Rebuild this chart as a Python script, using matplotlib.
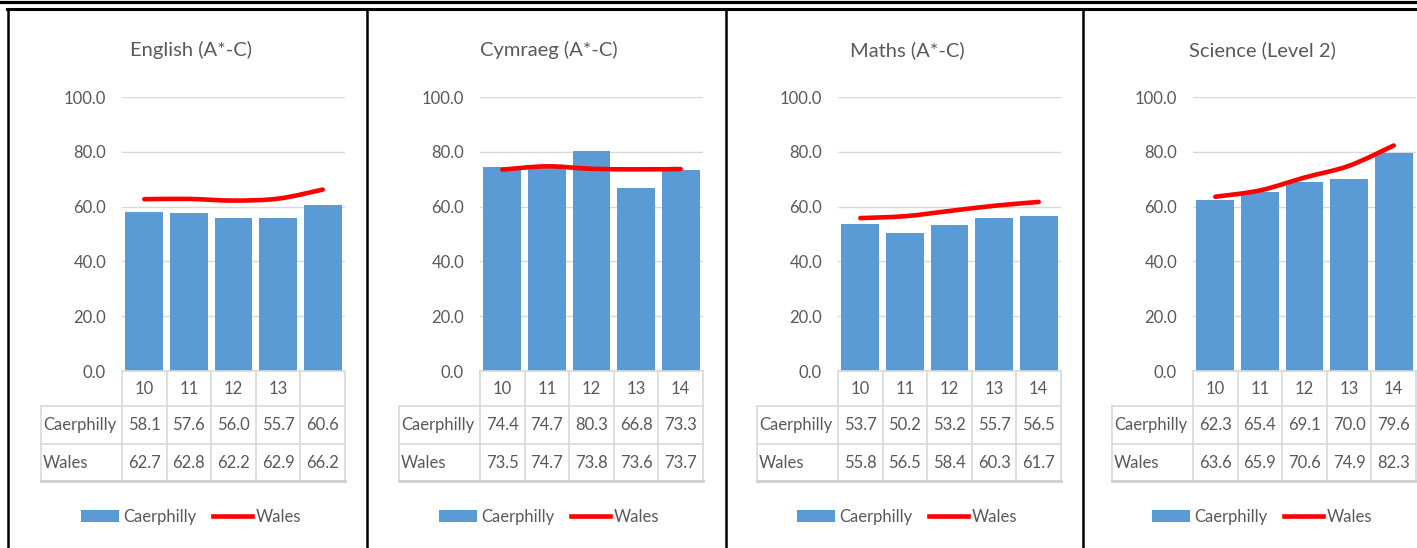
import numpy as np
import matplotlib.pyplot as plt
from matplotlib.lines import Line2D
from matplotlib.patches import Patch, PathPatch
from matplotlib.path import Path

plt.rcParams['font.family'] = ['Lato', 'DejaVu Sans']

# data
years = ['10', '11', '12', '13', '14']
english_years = ['10', '11', '12', '13', '']

english_caerphilly = [58.1, 57.6, 56.0, 55.7, 60.6]
english_wales = [62.7, 62.8, 62.2, 62.9, 66.2]
cymraeg_caerphilly = [74.4, 74.7, 80.3, 66.8, 73.3]
cymraeg_wales = [73.5, 74.7, 73.8, 73.6, 73.7]
maths_caerphilly = [53.7, 50.2, 53.2, 55.7, 56.5]
maths_wales = [55.8, 56.5, 58.4, 60.3, 61.7]
science_caerphilly = [62.3, 65.4, 69.1, 70.0, 79.6]
science_wales = [63.6, 65.9, 70.6, 74.9, 82.3]

panels = [
    ('English (A*-C)', english_years, english_caerphilly, english_wales),
    ('Cymraeg (A*-C)', years, cymraeg_caerphilly, cymraeg_wales),
    ('Maths (A*-C)', years, maths_caerphilly, maths_wales),
    ('Science (Level 2)', years, science_caerphilly, science_wales),
]

BLUE = '#5b9bd5'
RED = '#ff0000'
TEXT = '#595959'
GRID = '#d9d9d9'
FS = 12


def smooth_path(x, y):
    # Catmull-Rom style bezier through the points (like Excel's smoothed line)
    n = len(x)
    verts = [(x[0], y[0])]
    codes = [Path.MOVETO]
    for i in range(n - 1):
        x0, y0 = (x[i - 1], y[i - 1]) if i > 0 else (x[i], y[i])
        x3, y3 = (x[i + 2], y[i + 2]) if i + 2 < n else (x[i + 1], y[i + 1])
        c1 = (x[i] + (x[i + 1] - x0) / 6, y[i] + (y[i + 1] - y0) / 6)
        c2 = (x[i + 1] - (x3 - x[i]) / 6, y[i + 1] - (y3 - y[i]) / 6)
        verts += [c1, c2, (x[i + 1], y[i + 1])]
        codes += [Path.CURVE4] * 3
    return Path(verts, codes)


W, H = 1417, 548
fig = plt.figure(figsize=(W / 100, H / 100), dpi=100)

lefts = [122, 480, 838, 1193]
ax_w, ax_h, ax_bottom = 223, 274, 371
row_edges = [0, -35 / ax_h, -73 / ax_h, -110 / ax_h]
label_col = 81 / (ax_w / 5)  # width of the row label column, in category units

for left, (title, cats, caer, wales) in zip(lefts, panels):
    ax = fig.add_axes([left / W, (H - ax_bottom) / H, ax_w / W, ax_h / H])
    x = np.arange(len(cats))

    ax.bar(x, caer, width=0.85, color=BLUE, zorder=2)
    ax.add_patch(PathPatch(smooth_path(x, wales), fill=False, edgecolor=RED,
                           lw=3.3, capstyle='round', zorder=3))

    ax.set_xlim(-0.5, len(cats) - 0.5)
    ax.set_ylim(0, 100)
    ax.set_yticks(np.arange(0, 101, 20))
    ax.yaxis.set_major_formatter('{x:.1f}')
    ax.tick_params(axis='y', length=0, pad=11.5, labelsize=FS, labelcolor=TEXT)
    ax.set_xticks([])
    for s in ax.spines.values():
        s.set_visible(False)
    ax.grid(axis='y', color=GRID, lw=1)
    ax.set_axisbelow(True)

    ax.text(69 / ax_w, (ax_bottom - 50) / ax_h, title, transform=ax.transAxes,
            ha='center', va='center', fontsize=14.5, color=TEXT)

    # data table under the plot
    tr = ax.get_xaxis_transform()
    xl = -0.5 - label_col
    xr = len(cats) - 0.5
    for xv in np.arange(-0.5, len(cats)):
        ax.plot([xv, xv], [0, row_edges[3]], transform=tr, clip_on=False, color=GRID, lw=1.2)
    ax.plot([xl, xl], [row_edges[1], row_edges[3]], transform=tr, clip_on=False, color=GRID, lw=1.2)
    ax.plot([-0.5, xr], [0, 0], transform=tr, clip_on=False, color=GRID, lw=1.2)
    for ye in row_edges[1:]:
        ax.plot([xl, xr], [ye, ye], transform=tr, clip_on=False, color=GRID, lw=1.2)
    ax.plot([xl, xr], [row_edges[3], row_edges[3]], transform=tr, clip_on=False,
            color='#cfcfcf', lw=2)

    mids = [(row_edges[i] + row_edges[i + 1]) / 2 for i in range(3)]
    for i, c in enumerate(cats):
        ax.text(i, mids[0], c, transform=tr, ha='center', va='center', fontsize=FS, color=TEXT)
        ax.text(i, mids[1], f'{caer[i]:.1f}', transform=tr, ha='center', va='center',
                fontsize=FS, color=TEXT)
        ax.text(i, mids[2], f'{wales[i]:.1f}', transform=tr, ha='center', va='center',
                fontsize=FS, color=TEXT)
    ax.text(xl + 0.05, mids[1], 'Caerphilly', transform=tr, ha='left', va='center',
            fontsize=FS, color=TEXT)
    ax.text(xl + 0.05, mids[2], 'Wales', transform=tr, ha='left', va='center',
            fontsize=FS, color=TEXT)

    handles = [Patch(facecolor=BLUE), Line2D([], [], color=RED, lw=3.3)]
    ax.legend(handles, ['Caerphilly', 'Wales'], loc='center',
              bbox_to_anchor=(69 / ax_w, -146 / ax_h), ncol=2, frameon=False,
              fontsize=FS, handlelength=2.3, handleheight=0.7, handletextpad=0.25,
              columnspacing=1.0, labelcolor=TEXT)

# black frame lines around the panels
def px_line(xs, ys, lw):
    fig.add_artist(Line2D([v / W for v in xs], [1 - v / H for v in ys],
                          transform=fig.transFigure, color='black', lw=lw))

px_line([0, W], [1.5, 1.5], 2.3)
px_line([7, W], [9, 9], 2.2)
for xv in [8, 367, 726, 1083]:
    px_line([xv, xv], [9, H], 1.8)

fig.savefig('out.png', dpi=100)
